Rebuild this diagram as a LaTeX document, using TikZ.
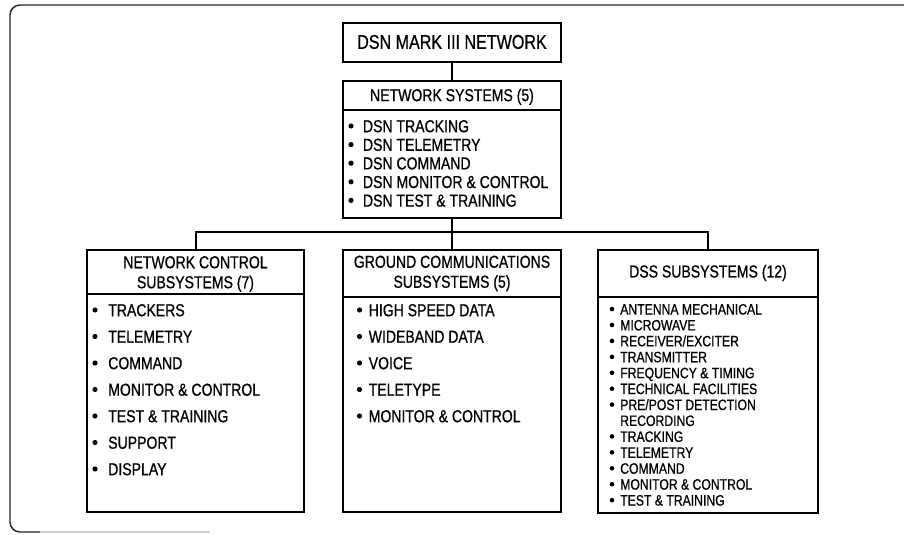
\documentclass[tikz,border=0pt]{standalone}
\usepackage{fontspec}
\setmainfont[FakeStretch=0.81,FakeBold=0.7]{Liberation Sans}
\usetikzlibrary{fit}
\begin{document}
\begin{tikzpicture}[x=0.75pt,y=-0.75pt,
  box/.style={draw, line width=1.5pt, rectangle, inner sep=0pt},
  hdr/.style={inner sep=0pt, align=center, font=\fontsize{13}{15}\selectfont},
  itm/.style={inner sep=0pt, anchor=base west, font=\fontsize{13}{15}\selectfont},
  sitm/.style={inner sep=0pt, anchor=base west, font=\fontsize{11.3}{13}\selectfont},
  link/.style={line width=1.5pt},
  dot/.style={fill=black},
  frame/.style={line width=1.1pt, black!85}]
\useasboundingbox (0,0) rectangle (904,535);
% outer frame
\draw[frame, rounded corners=7.5pt] (910,5) -- (10,5) -- (10,532) -- (40,532);
\draw[gray!35, line width=1pt] (40,532) -- (210,532);

% boxes
\node[box, fit={(343,23) (561,62)}] (title) {};
\node[box, fit={(343,81) (561,218)}] (ns) {};
\node[box, fit={(87,250) (304,512)}] (nc) {};
\node[box, fit={(343,250) (561,512)}] (gc) {};
\node[box, fit={(598,250) (818,513)}] (dss) {};
\draw[link] (ns.west |- 0,110) -- (ns.east |- 0,110);
\draw[link] (nc.west |- 0,294) -- (nc.east |- 0,294);
\draw[link] (gc.west |- 0,297) -- (gc.east |- 0,297);
\draw[link] (dss.west |- 0,297) -- (dss.east |- 0,297);

% connectors
\coordinate (bus) at (452,231.7);
\draw[link] (title.south) -- (ns.north);
\draw[link] (ns.south) -- (gc.north);
\draw[link] (nc.north) |- (bus) -| (dss.north);

% texts
\node[inner sep=0pt, font=\fontsize{14.9}{17}\selectfont] (tt) at (452,42) {DSN MARK III NETWORK};
\node[hdr] (nsh) at (452,96.7) {NETWORK SYSTEMS (5)};
\node[hdr] (nch) at (195.5,274) {NETWORK CONTROL\\SUBSYSTEMS (7)};
\node[hdr] (gch) at (452,273.5) {GROUND COMMUNICATIONS\\SUBSYSTEMS (5)};
\node[hdr] (dssh) at (708,273) {DSS SUBSYSTEMS (12)};

\foreach \t [count=\i] in {DSN TRACKING, DSN TELEMETRY, DSN COMMAND, DSN MONITOR \& CONTROL, DSN TEST \& TRAINING}{
  \node[itm] (nsi\i) at (362.7,{132.2+18.6*(\i-1)}) {\t};
  \fill[dot] (nsi\i.base west) ++(-11.7,-6.2) circle (2.6);}

\foreach \t [count=\i] in {TRACKERS, TELEMETRY, COMMAND, MONITOR \& CONTROL, TEST \& TRAINING, SUPPORT, DISPLAY}{
  \node[itm] (nci\i) at (108,{316.2+26.5*(\i-1)}) {\t};
  \fill[dot] (nci\i.base west) ++(-13,-6.2) circle (2.6);}

\foreach \t [count=\i] in {HIGH SPEED DATA, WIDEBAND DATA, VOICE, TELETYPE, MONITOR \& CONTROL}{
  \node[itm] (gci\i) at (368.5,{316.2+26.5*(\i-1)}) {\t};
  \fill[dot] (gci\i.base west) ++(-9,-6.2) circle (2.6);}

\foreach \k/\t [count=\i] in {0/ANTENNA MECHANICAL, 1/MICROWAVE, 2/RECEIVER\slash EXCITER, 3/TRANSMITTER, 4/FREQUENCY \& TIMING, 5/TECHNICAL FACILITIES, 6/PRE\slash POST DETECTION, 8/TRACKING, 9/TELEMETRY, 10/COMMAND, 11/MONITOR \& CONTROL, 12/TEST \& TRAINING}{
  \node[sitm] (dssi\i) at (620,{314.5+15.92*\k}) {\t};
  \fill[dot] (dssi\i.base west) ++(-8,-5.4) circle (2.3);}
\node[sitm] (dssr) at (620,{314.5+15.92*7}) {RECORDING};
\end{tikzpicture}
\end{document}
